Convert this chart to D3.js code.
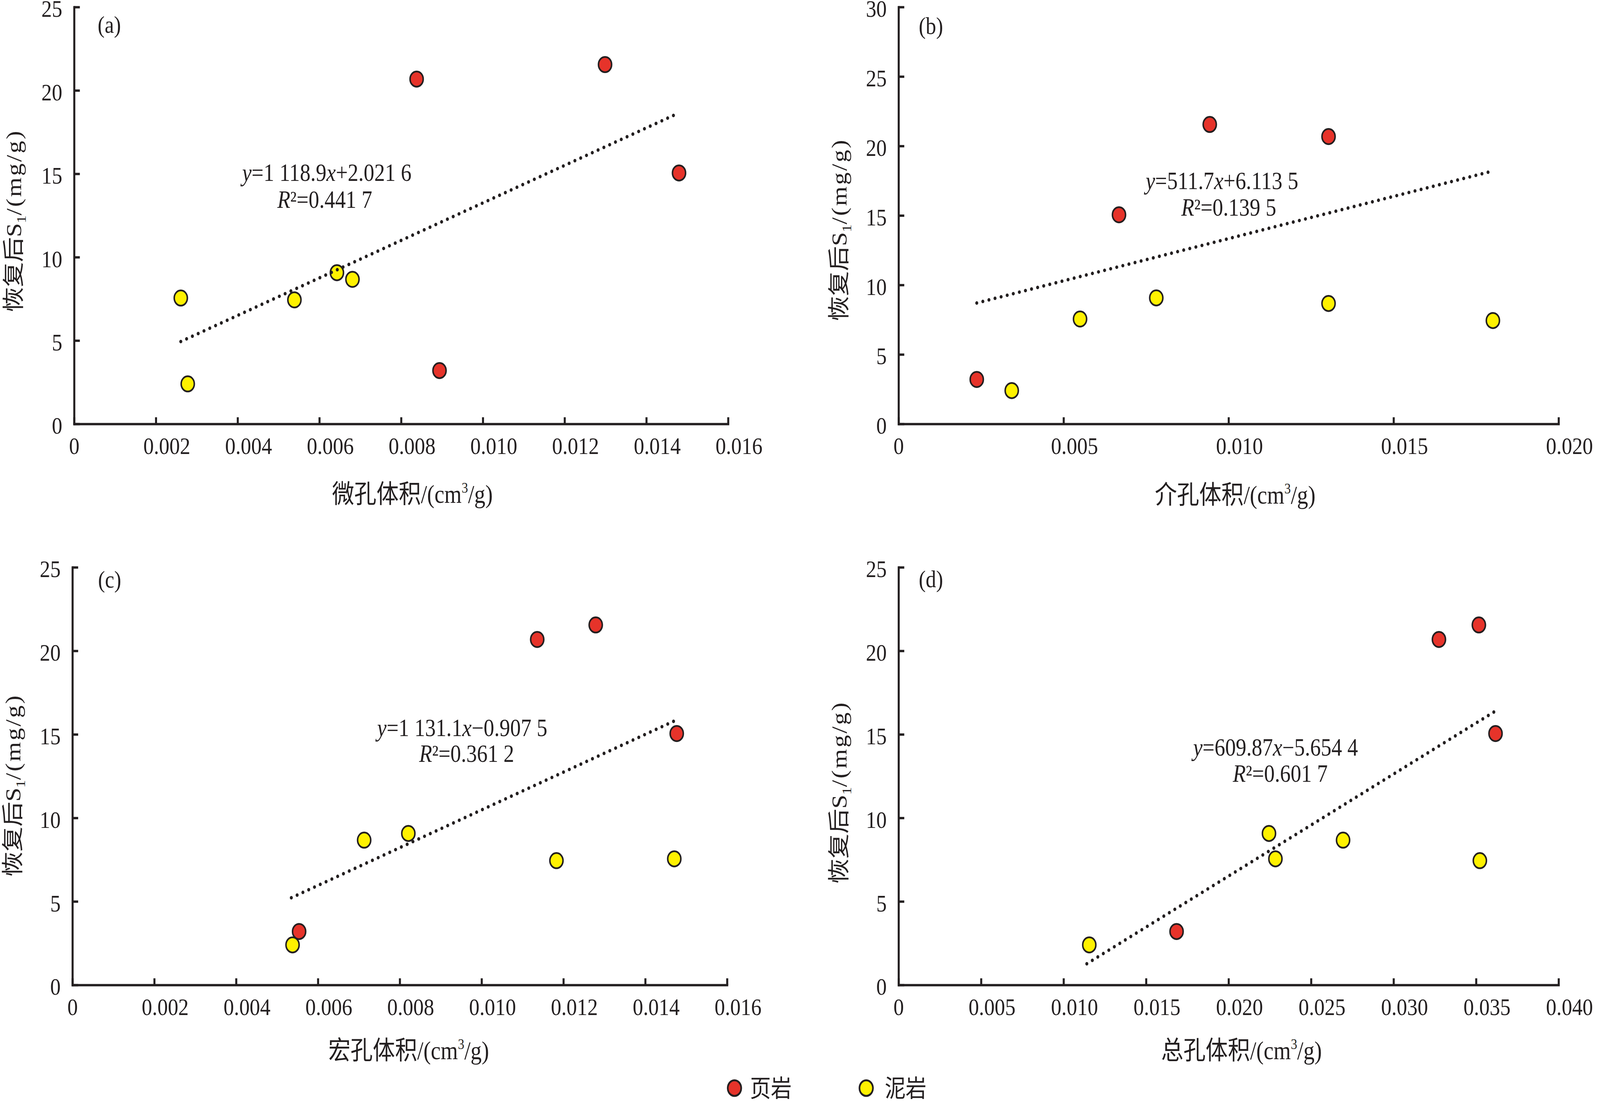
<!DOCTYPE html>
<html>
<head>
<meta charset="utf-8">
<script src="https://cdn.jsdelivr.net/npm/d3@7"></script>
<style>
  html, body { margin: 0; padding: 0; background: #fff; overflow: hidden; }
  svg { display: block; width: 100vw; height: 100vh; }
</style>
</head>
<body>
<div id="chart"></div>
<script>
/* ---------- data ---------- */
const s1       = [21.55, 20.68, 15.05, 3.2, 9.07, 8.67, 7.55, 7.44, 2.4];
const rock     = ["页岩", "页岩", "页岩", "页岩", "泥岩", "泥岩", "泥岩", "泥岩", "泥岩"];
const microVol = [0.01299, 0.00838, 0.0148, 0.00894, 0.00643, 0.00681, 0.00261, 0.00539, 0.00278];
const mesoVol  = [0.00943, 0.01303, 0.00668, 0.00237, 0.00781, 0.01303, 0.0055, 0.01801, 0.00343];
const macroVol = [0.01279, 0.01136, 0.01477, 0.00554, 0.00821, 0.00713, 0.01471, 0.01183, 0.00538];
const totalVol = [0.03517, 0.03275, 0.03618, 0.01685, 0.02245, 0.02694, 0.02284, 0.03523, 0.01156];

const xTicks016 = [0, 0.002, 0.004, 0.006, 0.008, 0.010, 0.012, 0.014, 0.016];
const xTicks020 = [0, 0.005, 0.010, 0.015, 0.020];
const xTicks040 = [0, 0.005, 0.010, 0.015, 0.020, 0.025, 0.030, 0.035, 0.040];
const yTicks25  = [0, 5, 10, 15, 20, 25];
const yTicks30  = [0, 5, 10, 15, 20, 25, 30];

const panelTags = ["(a)", "(b)", "(c)", "(d)"];
const xTitles   = ["微孔体积", "介孔体积", "宏孔体积", "总孔体积"];
const equations = ["y=1 118.9x+2.021 6", "y=511.7x+6.113 5", "y=1 131.1x−0.907 5", "y=609.87x−5.654 4"];
const r2Texts   = ["R²=0.441 7", "R²=0.139 5", "R²=0.361 2", "R²=0.601 7"];
// trend line ends as drawn in the figure [x, y]
const trendStart = [[0.00261, 4.94], [0.00237, 8.7], [0.00535, 5.22], [0.01141, 1.27]];
const trendEnd   = [[0.01471, 18.55], [0.01801, 18.2], [0.0147, 15.79], [0.03615, 16.38]];

const legendNames = ["页岩", "泥岩"];

/* ---------- layout & style ---------- */
const W = 4749, H = 2818;
const ink = "#231f20";
const serif = "'Liberation Serif','Times New Roman','Noto Sans CJK SC',serif";
const rockColor = { "页岩": "#e6332a", "泥岩": "#fff100" };

const panels = [
  { xv: microVol, xTicks: xTicks016, yTicks: yTicks25, left: 220,  right: 2161, top: 18,   bottom: 1085,
    eq: [970, 463],   r2: [964, 532],   tag: [290, 84],    yt: [40, 565],    xt: [1224, 1287] },
  { xv: mesoVol,  xTicks: xTicks020, yTicks: yTicks30, left: 2667, right: 4626, top: 18,   bottom: 1085,
    eq: [3627, 484],  r2: [3647, 552],  tag: [2727, 87],   yt: [2490, 588],  xt: [3666, 1289] },
  { xv: macroVol, xTicks: xTicks016, yTicks: yTicks25, left: 215,  right: 2158, top: 1452, bottom: 2521,
    eq: [1372, 1884], r2: [1385, 1950], tag: [291, 1504],  yt: [38, 2010],   xt: [1213, 2711] },
  { xv: totalVol, xTicks: xTicks040, yTicks: yTicks25, left: 2667, right: 4626, top: 1452, bottom: 2521,
    eq: [3786, 1934], r2: [3800, 2001], tag: [2727, 1503], yt: [2490, 2028], xt: [3685, 2711] }
];

// the drawing is laid out in 4749x2818 units and stretched to the window
const svg = d3.select("#chart").append("svg")
  .attr("viewBox", `0 0 ${W} ${H}`)
  .attr("preserveAspectRatio", "none")
  .style("background", "#fff");

const xFmt = d => d === 0 ? "0" : d3.format(".3f")(d);

// write text where x / y / R are italic letters
function mathText(sel, str) {
  str.split(/([xyR])/).filter(s => s.length).forEach(part => {
    const t = sel.append("tspan").text(part);
    if (/^[xyR]$/.test(part)) t.attr("font-style", "italic");
  });
}

panels.forEach((p, i) => {
  const g = svg.append("g");
  const x = d3.scaleLinear().domain([p.xTicks[0], p.xTicks[p.xTicks.length - 1]]).range([p.left, p.right]);
  const y = d3.scaleLinear().domain([p.yTicks[0], p.yTicks[p.yTicks.length - 1]]).range([p.bottom, p.top]);

  // x axis
  const gx = g.append("g").attr("transform", `translate(0,${p.bottom})`)
    .call(d3.axisBottom(x).tickValues(p.xTicks).tickSize(-17).tickSizeOuter(0).tickFormat(xFmt));
  gx.attr("font-size", 62).attr("font-family", serif);
  gx.select(".domain").attr("stroke", ink).attr("stroke-width", 6).attr("stroke-linecap", "square");
  gx.selectAll(".tick line").attr("stroke", ink).attr("stroke-width", 6);
  gx.selectAll(".tick text").attr("fill", ink).attr("y", 77).attr("dy", 0)
    .attr("dx", d => d === 0 ? 0 : 32);

  // y axis
  const gy = g.append("g").attr("transform", `translate(${p.left},0)`)
    .call(d3.axisLeft(y).tickValues(p.yTicks).tickSize(-17).tickSizeOuter(0).tickPadding(35).tickFormat(d3.format("d")));
  gy.attr("font-size", 62).attr("font-family", serif);
  gy.select(".domain").attr("stroke", ink).attr("stroke-width", 6).attr("stroke-linecap", "square");
  gy.selectAll(".tick line").attr("stroke", ink).attr("stroke-width", 6);
  gy.selectAll(".tick text").attr("fill", ink).attr("dy", "0.4em");

  // panel tag
  g.append("text").attr("x", p.tag[0]).attr("y", p.tag[1])
    .attr("font-family", serif).attr("font-size", 62).attr("fill", ink)
    .text(panelTags[i]);

  // y title
  const ytxt = g.append("text")
    .attr("transform", `translate(${p.yt[0]},${p.yt[1]}) rotate(-90)`)
    .attr("text-anchor", "middle").attr("dy", "0.35em")
    .attr("font-family", serif).attr("font-size", 64).attr("fill", ink);
  ytxt.append("tspan").text("恢复后S");
  ytxt.append("tspan").attr("font-size", 40).attr("dy", 14).text("1");
  ytxt.append("tspan").attr("dy", -14).attr("letter-spacing", 4).text("/(mg/g)");

  // x title
  const xtxt = g.append("text").attr("x", p.xt[0]).attr("y", p.xt[1])
    .attr("text-anchor", "middle")
    .attr("font-family", serif).attr("font-size", 66).attr("fill", ink);
  xtxt.append("tspan").text(xTitles[i] + "/(cm");
  xtxt.append("tspan").attr("font-size", 38).attr("dy", -26).text("3");
  xtxt.append("tspan").attr("dy", 26).text("/g)");

  // points: mudstone below shale
  const pts = s1.map((v, k) => ({ x: p.xv[k], y: v, rock: rock[k] }));
  const order = ["泥岩", "页岩"];
  order.forEach(r => {
    g.selectAll(null).data(pts.filter(d => d.rock === r)).join("circle")
      .attr("cx", d => x(d.x)).attr("cy", d => y(d.y)).attr("r", 19.5)
      .attr("fill", rockColor[r]).attr("stroke", ink).attr("stroke-width", 4.5);
  });

  // dotted trend line
  g.append("path")
    .datum([trendStart[i], trendEnd[i]])
    .attr("d", d3.line().x(d => x(d[0])).y(d => y(d[1])))
    .attr("fill", "none").attr("stroke", ink).attr("stroke-width", 9)
    .attr("stroke-linecap", "round").attr("stroke-dasharray", "0 18.5");

  // equation
  const eq = g.append("text").attr("x", p.eq[0]).attr("y", p.eq[1]).attr("text-anchor", "middle")
    .attr("font-family", serif).attr("font-size", 63).attr("fill", ink)
    .style("white-space", "pre");
  mathText(eq, equations[i]);
  const r2 = g.append("text").attr("x", p.r2[0]).attr("y", p.r2[1]).attr("text-anchor", "middle")
    .attr("font-family", serif).attr("font-size", 63).attr("fill", ink)
    .style("white-space", "pre");
  mathText(r2, r2Texts[i]);
});

/* ---------- legend ---------- */
const legendX = [2180, 2571];
const legend = svg.append("g");
legendNames.forEach((name, k) => {
  legend.append("circle").attr("cx", legendX[k]).attr("cy", 2785).attr("r", 20)
    .attr("fill", rockColor[name]).attr("stroke", ink).attr("stroke-width", 5);
  legend.append("text").attr("x", legendX[k] + 46 + k * 9).attr("y", 2808)
    .attr("font-family", serif).attr("font-size", 62).attr("fill", ink)
    .text(name);
});
</script>
</body>
</html>
